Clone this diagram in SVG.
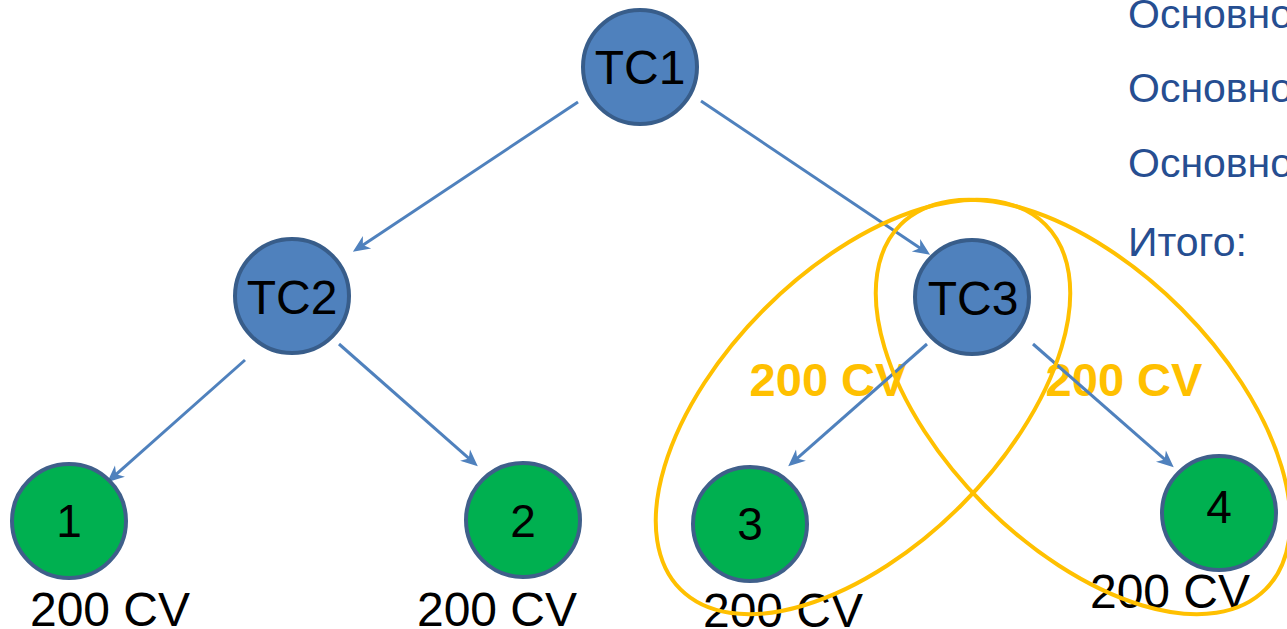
<svg xmlns="http://www.w3.org/2000/svg" width="1287" height="629" viewBox="0 0 1287 629">
<defs>
<style>
.txt{font-family:"Liberation Sans",Arial,sans-serif;fill:#000}
.tc{fill:#4F81BD;stroke:#385D8A;stroke-width:4}
.leaf{fill:#00B050;stroke:#3F5F8A;stroke-width:4}
.lbl{font-size:48px;text-anchor:middle}
.num{font-size:46px;text-anchor:middle}
.cv{font-family:"Liberation Sans",Arial,sans-serif;font-size:48px;text-anchor:middle;fill:#000}
.ycv{font-family:"Liberation Sans",Arial,sans-serif;font-size:47px;font-weight:bold;fill:#FFC000;text-anchor:middle}
.conn{stroke:#4F81BD;stroke-width:3;fill:none;marker-end:url(#arr)}
.ring{fill:none;stroke:#FFC000;stroke-width:4}
.side{font-family:"Liberation Sans",Arial,sans-serif;font-size:41px;fill:#264E91}
</style>
<marker id="arr" markerUnits="userSpaceOnUse" markerWidth="24" markerHeight="18" viewBox="-14 -9 24 18" refX="-5" refY="0" orient="auto">
<path d="M5,0 L-12,-7.5 L-7,0 L-12,7.5 Z" fill="#4F81BD"/>
</marker>
</defs>

<g id="side-text">
<text class="side" x="1128" y="28">Основно</text>
<text class="side" x="1128" y="102">Основно</text>
<text class="side" x="1128" y="177">Основно</text>
<text class="side" x="1128" y="256">Итого:</text>
</g>

<g id="leaf-labels">
<text class="cv" x="110" y="626">200 CV</text>
<text class="cv" x="497" y="626">200 CV</text>
<text class="cv" x="783" y="627">200 CV</text>
<text class="cv" x="1170" y="608">200 CV</text>
</g>

<g id="group-labels">
<text class="ycv" x="828" y="396">200 CV</text>
<text class="ycv" x="1124" y="396">200 CV</text>
</g>

<g id="connectors">
<line class="conn" x1="578" y1="102" x2="361.2" y2="246.2"/>
<line class="conn" x1="701" y1="101" x2="921.8" y2="249.2"/>
<line class="conn" x1="245" y1="360" x2="114.7" y2="475.7"/>
<line class="conn" x1="339" y1="344" x2="470.3" y2="459.7"/>
<line class="conn" x1="927" y1="344" x2="795.7" y2="459.7"/>
<line class="conn" x1="1033" y1="344" x2="1166.2" y2="460.7"/>
</g>

<g id="TC1">
<circle class="tc" cx="640" cy="67" r="57"/>
<text class="txt lbl" x="640" y="84">TC1</text>
</g>
<g id="TC2">
<circle class="tc" cx="292" cy="296" r="57"/>
<text class="txt lbl" x="292" y="314">TC2</text>
</g>
<g id="TC3">
<circle class="tc" cx="972" cy="297" r="57"/>
<text class="txt lbl" x="973" y="315">TC3</text>
</g>
<g id="node1">
<circle class="leaf" cx="69" cy="521" r="57"/>
<text class="txt num" x="69" y="537">1</text>
</g>
<g id="node2">
<circle class="leaf" cx="523" cy="520" r="57"/>
<text class="txt num" x="523" y="537">2</text>
</g>
<g id="node3">
<circle class="leaf" cx="750" cy="524" r="57"/>
<text class="txt num" x="750" y="540">3</text>
</g>
<g id="node4">
<circle class="leaf" cx="1219" cy="513" r="57"/>
<text class="txt num" x="1219" y="523">4</text>
</g>

<g id="groups">
<ellipse class="ring" cx="0" cy="0" rx="258" ry="139" transform="translate(863,407) rotate(-45)"/>
<ellipse class="ring" cx="0" cy="0" rx="258" ry="139" transform="translate(1083,407) rotate(45)"/>
</g>
</svg>
